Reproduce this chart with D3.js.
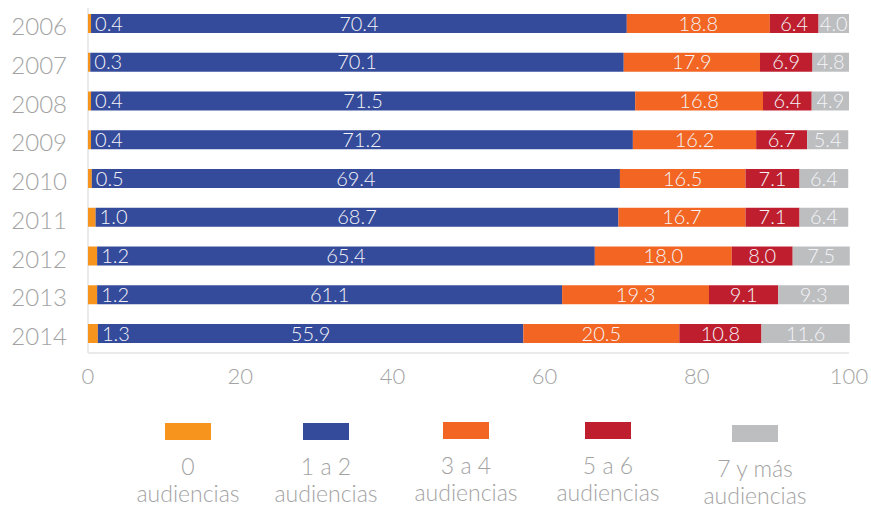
<!DOCTYPE html>
<html>
<head>
<meta charset="utf-8">
<script src="https://cdn.jsdelivr.net/npm/d3@7"></script>
<style>
  body { margin: 0; background: #fff; }
  svg text { font-family: Lato, "Open Sans", sans-serif; font-weight: 300; }
</style>
</head>
<body>
<div id="chart"></div>
<script>
var years = ["2006", "2007", "2008", "2009", "2010", "2011", "2012", "2013", "2014"];
var seriesNames = ["0 audiencias", "1 a 2 audiencias", "3 a 4 audiencias", "5 a 6 audiencias", "7 y más audiencias"];
var legendLines = [["0", "audiencias"], ["1 a 2", "audiencias"], ["3 a 4", "audiencias"], ["5 a 6", "audiencias"], ["7 y más", "audiencias"]];
var colors = ["#f7941d", "#344a9a", "#f26522", "#be1e2d", "#bcbec0"];

var aud0 = [0.4, 0.3, 0.4, 0.4, 0.5, 1.0, 1.2, 1.2, 1.3];
var aud12 = [70.4, 70.1, 71.5, 71.2, 69.4, 68.7, 65.4, 61.1, 55.9];
var aud34 = [18.8, 17.9, 16.8, 16.2, 16.5, 16.7, 18.0, 19.3, 20.5];
var aud56 = [6.4, 6.9, 6.4, 6.7, 7.1, 7.1, 8.0, 9.1, 10.8];
var aud7 = [4.0, 4.8, 4.9, 5.4, 6.4, 6.4, 7.5, 9.3, 11.6];
var xTicks = [0, 20, 40, 60, 80, 100];

var series = [aud0, aud12, aud34, aud56, aud7];

var width = 871, height = 510;
var svg = d3.select("#chart").append("svg")
  .attr("width", width)
  .attr("height", height);

var x = d3.scaleLinear().domain([0, 100]).range([88, 849]);
var y = d3.scaleBand().domain(years).range([4.5, 352.5])
  .paddingInner(0.51).paddingOuter(0.245);

// stacked data
var rows = years.map(function(yr, i) {
  var r = { year: yr };
  series.forEach(function(s, k) { r["s" + k] = s[i]; });
  return r;
});
var keys = series.map(function(s, k) { return "s" + k; });
var stacked = d3.stack().keys(keys)(rows);

// axis lines
svg.append("line")
  .attr("x1", x(0)).attr("x2", x(0))
  .attr("y1", 8).attr("y2", 353)
  .attr("stroke", "#e3e3e3").attr("stroke-width", 1.5);
svg.append("line")
  .attr("x1", x(0)).attr("x2", x(100))
  .attr("y1", 353).attr("y2", 353)
  .attr("stroke", "#e3e3e3").attr("stroke-width", 1.5);

var layers = svg.selectAll(".layer")
  .data(stacked)
  .enter().append("g")
  .attr("class", "layer")
  .attr("fill", function(d, k) { return colors[k]; });

layers.selectAll("rect")
  .data(function(d) { return d; })
  .enter().append("rect")
  .attr("x", function(d) { return x(d[0]); })
  .attr("y", function(d) { return y(d.data.year); })
  .attr("width", function(d) { return x(d[1]) - x(d[0]); })
  .attr("height", y.bandwidth());

// value labels
stacked.forEach(function(layer, k) {
  svg.append("g").selectAll("text")
    .data(layer)
    .enter().append("text")
    .attr("x", function(d) {
      if (k === 0) return x(d[1]) + 4;
      return (x(d[0]) + x(d[1])) / 2;
    })
    .attr("y", function(d) { return y(d.data.year) + y.bandwidth() / 2; })
    .attr("dy", "0.36em")
    .attr("text-anchor", k === 0 ? "start" : "middle")
    .attr("fill", "#f4f4f8")
    .style("font-size", "20px")
    .text(function(d) { return (d[1] - d[0]).toFixed(1); });
});

// year labels
svg.append("g").selectAll("text")
  .data(years)
  .enter().append("text")
  .attr("x", 67)
  .attr("y", function(d) { return y(d) + y.bandwidth() / 2 + 3; })
  .attr("dy", "0.36em")
  .attr("text-anchor", "end")
  .attr("fill", "#a3a3a3")
  .style("font-size", "24px")
  .text(function(d) { return d; });

// x tick labels
svg.append("g").selectAll("text")
  .data(xTicks)
  .enter().append("text")
  .attr("x", function(d) { return x(d); })
  .attr("y", 376)
  .attr("dy", "0.36em")
  .attr("text-anchor", "middle")
  .attr("fill", "#a3a3a3")
  .style("font-size", "22px")
  .text(function(d) { return d; });

// legend
var legendX = [188, 326, 466, 608, 755];
var legendTop = [423, 423, 422, 422, 425];
var lg = svg.append("g").selectAll("g")
  .data(seriesNames)
  .enter().append("g")
  .attr("transform", function(d, k) { return "translate(" + legendX[k] + "," + legendTop[k] + ")"; });

lg.append("rect")
  .attr("x", -23).attr("y", 0)
  .attr("width", 46).attr("height", 17)
  .attr("fill", function(d, k) { return colors[k]; });

lg.each(function(d, k) {
  var g = d3.select(this);
  legendLines[k].forEach(function(line, j) {
    g.append("text")
      .attr("x", 0)
      .attr("y", 44 + j * 27)
      .attr("dy", "0.36em")
      .attr("text-anchor", "middle")
      .attr("fill", "#a3a3a3")
      .style("font-size", "23px")
      .text(line);
  });
});
</script>
</body>
</html>
